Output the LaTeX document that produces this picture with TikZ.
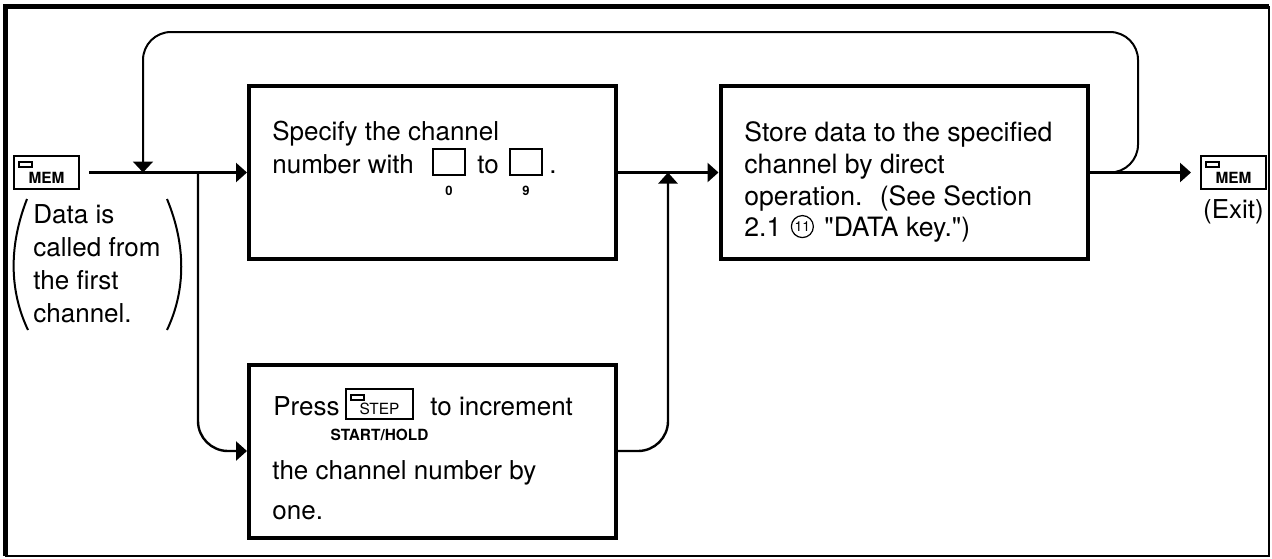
\documentclass[tikz,border=0pt]{standalone}
\usepackage{fontspec}
\setmainfont{TeX Gyre Heros}[Ligatures=TeXOff]
\usetikzlibrary{arrows.meta,positioning}

\begin{document}
\begin{tikzpicture}[x=0.5pt,y=-0.5pt,>={Triangle[length=5.5pt,width=9.5pt]},
  txt/.style={inner sep=0pt,font=\fontsize{13}{16.5}\selectfont},
  stage/.style={draw,line width=2pt,minimum width=183.5pt,minimum height=86.5pt,inner sep=0pt},
  keycap/.style={draw,line width=1pt,minimum width=32.5pt,minimum height=16.5pt,inner sep=0pt,
    font=\fontsize{7.7}{8}\selectfont\bfseries,text height=11pt,text depth=0pt,
    path picture={\draw[line width=0.9pt]([xshift=2.5pt,yshift=-3pt]path picture bounding box.north west)
      rectangle ++(6.5pt,-2.5pt);}},
  digitbox/.style={draw,line width=1pt,minimum width=16pt,minimum height=13pt,inner sep=0pt},
  digit/.style={inner sep=0pt,font=\fontsize{6.5}{7}\selectfont\bfseries},
  circled/.style={circle,draw,line width=0.6pt,inner sep=0pt,minimum size=11pt,
    font=\fontsize{7}{7}\selectfont},
  flow/.style={->,line width=1.2pt},
  paren/.style={line width=1pt}]
  \useasboundingbox (0,0) rectangle (1272,558);
  % frame
  \draw[line width=2.5pt] (5,556) -- (5,6) -- (1269,6);
  \draw[line width=1.2pt] (1269,6) -- (1269,556) -- (5,556);

  % keys in and out
  \node[keycap] (memin) at (46.5,172.5) {MEM};
  \node[keycap] (memout) at (1233.5,172.5) {MEM};
  \node[txt,anchor=base] (exit) at (1233.5,218) {(Exit)};

  % note under the entry key
  \node[txt,anchor=north west,align=left] (calltxt) at (33,204)
    {Data is\\called from\\the first\\channel.};
  \draw[paren] (27,199) .. controls (9,245) and (9,290) .. (28,330);
  \draw[paren] (167,199) .. controls (186,245) and (186,290) .. (167,330);

  % the three steps
  \node[stage] (specify) at (432.5,172.5) {};
  \node[stage] (store) at (904,172.5) {};
  \node[stage] (increment) at (432.5,451) {};

  % texts of the first step
  \node[txt,anchor=base west] (spectxt) at (272,140) {Specify the channel};
  \node[txt,anchor=base west] (numtxt) at (272,173) {number with};
  \node[digitbox] (key0) at (449,162) {};
  \node[digit,anchor=north] (zero) at ([yshift=-5pt]key0.south) {0};
  \node[txt,anchor=base west] (totxt) at (477,173) {to};
  \node[digitbox] (key9) at (526,162) {};
  \node[digit,anchor=north] (nine) at ([yshift=-5pt]key9.south) {9};
  \node[txt,anchor=base west] (dottxt) at (549,173) {.};

  % text of the second step
  \node[txt,anchor=north west,align=left,font=\fontsize{13.3}{16}\selectfont] (storetxt) at (744,121)
    {Store data to the specified\\channel by direct\\operation.~ (See Section};
  \node[txt,anchor=base west,font=\fontsize{13.3}{16}\selectfont] (sectxt) at (744,236) {2.1};
  \node[circled,right=4.5pt of sectxt] (eleven) {11};
  \node[txt,anchor=base west,font=\fontsize{13.3}{16}\selectfont] (datatxt)
    at ([xshift=5pt]eleven.east |- sectxt.base) {"DATA key.")};

  % texts of the third step
  \node[txt,anchor=base west] (presstxt) at (273,415) {Press};
  \node[keycap,minimum width=33.5pt,minimum height=15pt,text height=10pt,
    font=\fontsize{7.7}{8}\selectfont] (stepkey) at (379.5,404) {STEP};
  \node[digit,anchor=north,font=\fontsize{7.7}{8}\selectfont\bfseries] (hold)
    at ([yshift=-4.5pt]stepkey.south) {START/HOLD};
  \node[txt,anchor=base west] (inctxt) at (430,415) {to increment};
  \node[txt,anchor=north west,align=left] (bytxt) at (272,460)
    {the channel number by\\[3.5pt]one.};

  % junctions on the main line
  \coordinate (back) at (143,172.5);
  \coordinate (split) at (198,172.5);
  \coordinate (join) at (668,172.5);
  \coordinate (top) at (1138,32);

  % connectors
  \draw[flow,shorten <=4.5pt] (memin.east) -- (specify.west);
  \draw[flow] (specify.east) -- (store.west);
  \draw[flow,shorten >=4.5pt] (store.east) -- (memout.west);
  \draw[flow,rounded corners=15pt] (split) |- (increment.west);
  \draw[flow,rounded corners=15pt] (increment.east) -| (join);
  \draw[->,line width=1pt,rounded corners=14pt,>={Triangle[length=5.5pt,width=10pt]}]
    (store.east) -| (top) -| (back);
\end{tikzpicture}
\end{document}
